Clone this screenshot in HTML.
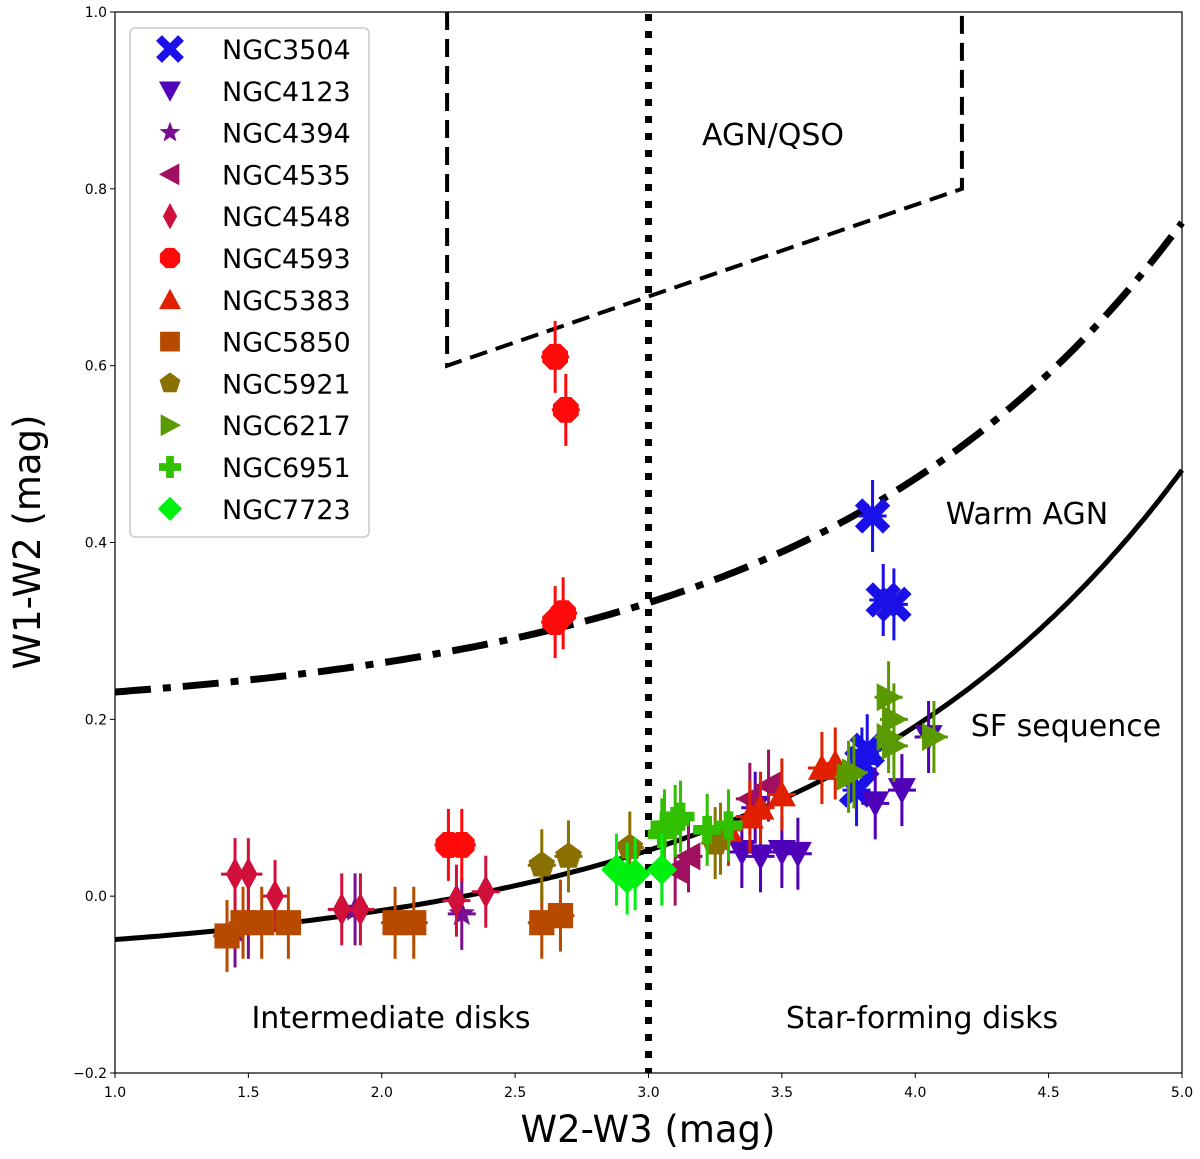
<!DOCTYPE html>
<html><head><meta charset="utf-8"><style>
html,body{margin:0;padding:0;background:#fff;}
svg{display:block;font-family:"DejaVu Sans","Liberation Sans",sans-serif;}
</style></head><body>
<svg id="chart" width="1200" height="1159" viewBox="0 0 1200 1159" xmlns="http://www.w3.org/2000/svg">
<g id="plot"></g>
<g id="axes"></g>
<g id="legend"></g>
</svg>
<script>
const xTicks=[1.0,1.5,2.0,2.5,3.0,3.5,4.0,4.5,5.0];
const yTicks=[-0.2,0.0,0.2,0.4,0.6,0.8,1.0];
const galaxies=["NGC3504","NGC4123","NGC4394","NGC4535","NGC4548","NGC4593","NGC5383","NGC5850","NGC5921","NGC6217","NGC6951","NGC7723"];
const colors=["#1a10e8","#5000b8","#780f90","#a01060","#d0103a","#ff0a0a","#e02000","#b84a00","#8a7000","#5a9a00","#30c000","#00f010"];
const markers=["x","v","star","<","d","oct","^","s","p",">","plus","D"];
const x3504=[3.84,3.88,3.92,3.82,3.80,3.78], y3504=[0.43,0.335,0.33,0.165,0.15,0.12];
const x4123=[3.35,3.42,3.50,3.56,3.85,3.95,4.05,3.40], y4123=[0.05,0.045,0.05,0.048,0.105,0.12,0.18,0.10];
const x4394=[1.50,1.90,2.30,1.45], y4394=[-0.03,-0.015,-0.02,-0.04];
const x4535=[3.15,3.38,3.45,3.10], y4535=[0.045,0.11,0.125,0.03];
const x4548=[1.45,1.50,1.60,1.85,1.92,2.28,2.39], y4548=[0.025,0.025,0.0,-0.015,-0.015,-0.005,0.005];
const x4593=[2.25,2.30,2.65,2.69,2.65,2.68], y4593=[0.058,0.058,0.61,0.55,0.31,0.32];
const x5383=[3.30,3.38,3.42,3.50,3.65,3.70], y5383=[0.075,0.09,0.10,0.115,0.145,0.15];
const x5850=[1.42,1.48,1.55,1.65,2.05,2.12,2.60,2.67], y5850=[-0.045,-0.03,-0.03,-0.03,-0.03,-0.03,-0.03,-0.022];
const x5921=[2.60,2.70,2.93,3.27,3.25], y5921=[0.035,0.045,0.055,0.065,0.06];
const x6217=[3.90,3.92,3.90,3.92,3.75,4.07,3.77], y6217=[0.225,0.20,0.18,0.17,0.135,0.18,0.14];
const x6951=[3.06,3.10,3.12,3.22,3.30,3.05], y6951=[0.08,0.085,0.09,0.075,0.08,0.07];
const x7723=[2.88,2.95,3.05,2.92], y7723=[0.03,0.025,0.03,0.02];
const xsAll=[x3504,x4123,x4394,x4535,x4548,x4593,x5383,x5850,x5921,x6217,x6951,x7723];
const ysAll=[y3504,y4123,y4394,y4535,y4548,y4593,y5383,y5850,y5921,y6217,y6951,y7723];
const boxX=[2.245,2.245,4.175,4.175], boxY=[1.0,0.6,0.8,1.0];

const NS="http://www.w3.org/2000/svg";
const L=115,R=1182,T=12,B=1073;
const sx=v=>L+(v-1)/4*(R-L), sy=v=>B-(v+0.2)/1.2*(B-T);
function mk(tag,attrs,parent){const e=document.createElementNS(NS,tag);for(const k in attrs)e.setAttribute(k,attrs[k]);parent.appendChild(e);return e;}
const plot=document.getElementById('plot'),axes=document.getElementById('axes'),leg=document.getElementById('legend');

function markerShape(type,cx,cy,s,color,parent){
  let e;const f=color;
  const poly=pts=>mk('polygon',{points:pts.map(p=>(cx+p[0]*s)+','+(cy+p[1]*s)).join(' '),fill:f},parent);
  if(type==='x'){e=mk('path',{d:`M${cx-s} ${cy-s}L${cx+s} ${cy+s}M${cx+s} ${cy-s}L${cx-s} ${cy+s}`,stroke:f,'stroke-width':s*0.75,fill:'none'},parent);}
  else if(type==='v')e=poly([[-1,-0.85],[1,-0.85],[0,1]]);
  else if(type==='^')e=poly([[-1,0.85],[1,0.85],[0,-1]]);
  else if(type==='<')e=poly([[0.85,-1],[0.85,1],[-1,0]]);
  else if(type==='>')e=poly([[-0.85,-1],[-0.85,1],[1,0]]);
  else if(type==='d')e=poly([[0,-1.2],[0.65,0],[0,1.2],[-0.65,0]]);
  else if(type==='D')e=poly([[0,-1.1],[1.1,0],[0,1.1],[-1.1,0]]);
  else if(type==='s')e=poly([[-0.9,-0.9],[0.9,-0.9],[0.9,0.9],[-0.9,0.9]]);
  else if(type==='plus')e=poly([[-0.35,-1],[0.35,-1],[0.35,-0.35],[1,-0.35],[1,0.35],[0.35,0.35],[0.35,1],[-0.35,1],[-0.35,0.35],[-1,0.35],[-1,-0.35],[-0.35,-0.35]]);
  else if(type==='oct'){const p=[];for(let i=0;i<8;i++){const a=Math.PI/8+i*Math.PI/4;p.push([Math.cos(a),Math.sin(a)]);}e=poly(p);}
  else if(type==='p'){const p=[];for(let i=0;i<5;i++){const a=-Math.PI/2+i*2*Math.PI/5;p.push([Math.cos(a),Math.sin(a)]);}e=poly(p);}
  else if(type==='star'){const p=[];for(let i=0;i<10;i++){const a=-Math.PI/2+i*Math.PI/5,r=i%2?0.42:1;p.push([r*Math.cos(a),r*Math.sin(a)]);}e=poly(p);}
  return e;
}

const fr=mk('rect',{x:L,y:T,width:R-L,height:B-T,fill:'none',stroke:'#000','stroke-width':1.2},axes);


function curve(off){let d='';for(let i=0;i<=200;i++){const x=1+4*i/200;const y=0.015*Math.exp(x/1.38)+off;d+=(i?'L':'M')+sx(x).toFixed(1)+' '+sy(y).toFixed(1);}return d;}
const sf=mk('path',{d:curve(-0.08),stroke:'#000','stroke-width':5,fill:'none'},plot);

const wa=mk('path',{d:curve(0.2),stroke:'#000','stroke-width':7,fill:'none','stroke-dasharray':'36 12 8 12'},plot);

const bx=mk('polyline',{points:boxX.map((v,i)=>sx(v)+','+sy(boxY[i])).join(' '),stroke:'#000','stroke-width':4,fill:'none','stroke-dasharray':'18 9'},plot);

const vl=mk('line',{x1:sx(3),x2:sx(3),y1:T+2,y2:B,stroke:'#000','stroke-width':7,'stroke-dasharray':'7 10'},plot);


galaxies.forEach((g,gi)=>{
  const grp=mk('g',{},plot);
  
  
  const xs=xsAll[gi],ys=ysAll[gi],c=colors[gi];
  xs.forEach((xv,i)=>{
    const cx=sx(xv),cy=sy(ys[i]);
    mk('line',{x1:cx,x2:cx,y1:cy-36,y2:cy+36,stroke:c,'stroke-width':3},grp);
    mk('line',{x1:cx-14,x2:cx+14,y1:cy,y2:cy,stroke:c,'stroke-width':3},grp);
    const m=markerShape(markers[gi],cx,cy,14,c,grp);
    
    
  });
});

xTicks.forEach(v=>{const x=sx(v);mk('line',{x1:x,x2:x,y1:B,y2:B+5,stroke:'#000'},axes);
  const t=mk('text',{x:x,y:B+24,'font-size':14,'text-anchor':'middle'},axes);t.textContent=v.toFixed(1);
  });
yTicks.forEach(v=>{const y=sy(v);mk('line',{x1:L-5,x2:L,y1:y,y2:y,stroke:'#000'},axes);
  const t=mk('text',{x:L-8,y:y+5,'font-size':14,'text-anchor':'end'},axes);t.textContent=(v<0?'\u2212':'')+Math.abs(v).toFixed(1);
  });
const xt=mk('text',{x:648,y:1142,'font-size':37,'text-anchor':'middle'},axes);xt.textContent='W2-W3 (mag)';

const yt=mk('text',{x:0,y:0,'font-size':37,'text-anchor':'middle',transform:'translate(40,542) rotate(-90)'},axes);yt.textContent='W1-W2 (mag)';


[['AGN/QSO',773,145,'agn-qso-label'],['Warm AGN',1027,524,'warm-agn-label'],['SF sequence',1066,736,'sf-sequence-label'],['Intermediate disks',391,1028,'intermediate-disks-label'],['Star-forming disks',922,1028,'star-forming-disks-label']].forEach(a=>{
  const t=mk('text',{x:a[1],y:a[2],'font-size':30,'text-anchor':'middle'},axes);t.textContent=a[0];
  });

const lb=mk('rect',{x:130,y:28,width:239,height:509,rx:5,fill:'#fff','fill-opacity':0.85,stroke:'#ccc','stroke-width':1.5},leg);

galaxies.forEach((g,gi)=>{
  const y=49+gi*41.8;
  const e=mk('g',{},leg);
  
  
  markerShape(markers[gi],170,y,11,colors[gi],e);
  const t=mk('text',{x:222,y:y+10,'font-size':27},e);t.textContent=g;
});
</script>
</body></html>
